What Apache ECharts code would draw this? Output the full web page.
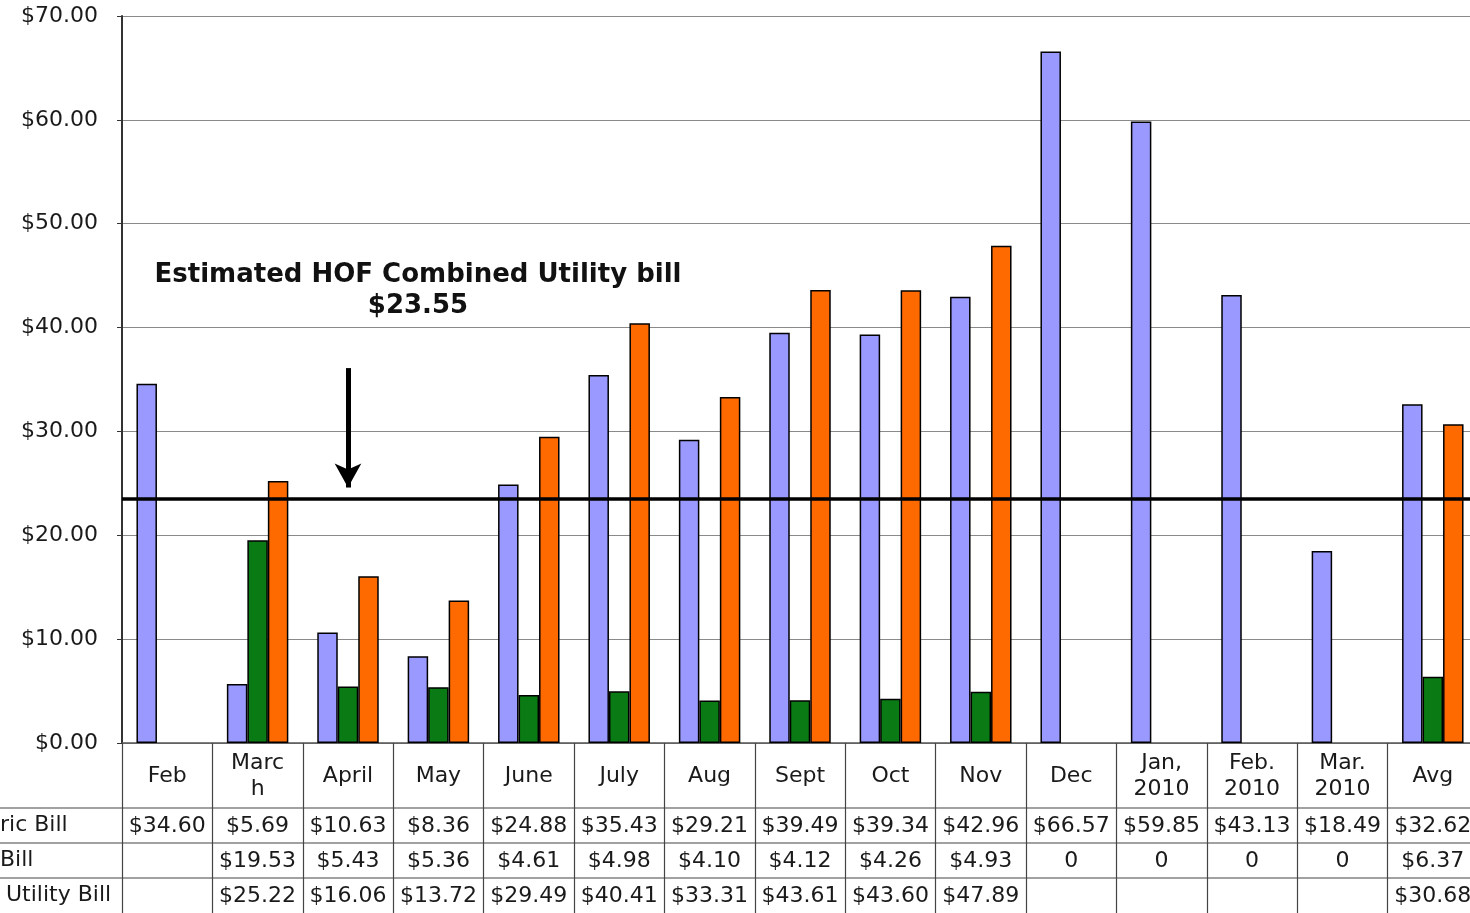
<!DOCTYPE html>
<html>
<head>
<meta charset="utf-8">
<title>Utility bills</title>
<script src="https://cdn.jsdelivr.net/npm/echarts@6/dist/echarts.min.js"></script>
<style>
  html, body { margin: 0; padding: 0; background: #fff; overflow: hidden; }
  /* the last column runs a few px past the window edge, as in the original */
  #chart { width: 1478px; height: 913px; }
</style>
</head>
<body>
<div id="chart"></div>
<script>
// categories (as printed in the table header)
const months = ['Feb', 'Marc\nh', 'April', 'May', 'June', 'July', 'Aug', 'Sept', 'Oct', 'Nov',
  'Dec', 'Jan,\n2010', 'Feb.\n2010', 'Mar.\n2010', 'Avg'];

// series values (null = empty cell)
const electricBill = [34.60, 5.69, 10.63, 8.36, 24.88, 35.43, 29.21, 39.49, 39.34, 42.96,
  66.57, 59.85, 43.13, 18.49, 32.62];
const gasBill = [null, 19.53, 5.43, 5.36, 4.61, 4.98, 4.10, 4.12, 4.26, 4.93, 0, 0, 0, 0, 6.37];
const combinedBill = [null, 25.22, 16.06, 13.72, 29.49, 40.41, 33.31, 43.61, 43.60, 47.89,
  null, null, null, null, 30.68];

// visible parts of the table row headers
const rowLabels = ['ric Bill', 'Bill', 'Utility Bill'];

// estimated HOF combined bill
const estimate = 23.55;
// arrow drawn in April, from / to these values
const arrowFrom = 36.1, arrowTo = 24.6;

const FONT = '"DejaVu Sans", sans-serif';
const TXT = '#1a1a1a';

const money = v => v === null ? '' : (v === 0 ? '0' : '$' + v.toFixed(2));

// one extra x axis per table row, just to print the cells
function tableAxis(values, offset) {
  return {
    type: 'category',
    position: 'bottom',
    offset: offset,
    data: values.map(money),
    axisLine: { show: false },
    axisTick: { show: false },
    axisLabel: {
      interval: 0, margin: 18, verticalAlign: 'middle',
      color: TXT, fontSize: 22, fontFamily: FONT
    }
  };
}

// zero bars: no outline, so nothing shows on the axis
const barData = arr => arr.map(v => v === 0 ? { value: 0, itemStyle: { borderWidth: 0 } } : v);

const barBorder = { borderColor: '#000', borderWidth: 1.5 };

const options = {
  animation: false,
  grid: { left: 122, right: 0, top: 16, bottom: 170, containLabel: false },
  xAxis: [
    {
      type: 'category',
      data: months,
      axisLine: { lineStyle: { color: '#555', width: 1.5 } },
      axisTick: { show: true, interval: 0, length: 170, lineStyle: { color: '#444', width: 1.2 } },
      axisLabel: {
        interval: 0, margin: 33, verticalAlign: 'middle', lineHeight: 26,
        color: TXT, fontSize: 22, fontFamily: FONT
      }
    },
    tableAxis(electricBill, 65),
    tableAxis(gasBill, 100),
    tableAxis(combinedBill, 135)
  ],
  yAxis: {
    type: 'value',
    min: 0, max: 70, interval: 10,
    axisLine: { show: true, lineStyle: { color: '#333', width: 2 } },
    axisTick: { show: true, length: 5, lineStyle: { color: '#333' } },
    axisLabel: {
      margin: 24, color: TXT, fontSize: 22, fontFamily: FONT,
      formatter: v => '$' + v.toFixed(2)
    },
    splitLine: { show: true, lineStyle: { color: '#8a8a8a', width: 1.2 } }
  },
  series: [
    {
      name: 'Electric Bill',
      type: 'bar',
      data: barData(electricBill),
      barGap: '0%',
      barCategoryGap: '32%',
      itemStyle: Object.assign({ color: '#9999FF' }, barBorder)
    },
    {
      name: 'Gas Bill',
      type: 'bar',
      data: barData(gasBill),
      barGap: '0%',
      barCategoryGap: '32%',
      itemStyle: Object.assign({ color: '#0A7A14' }, barBorder),
      // middle bar sits on the category centre, so the arrow goes here
      markLine: {
        silent: true,
        symbol: 'none',
        symbolSize: [20, 24],
        label: { show: false },
        lineStyle: { color: '#000', width: 3.5, type: 'solid' },
        data: [
          { yAxis: estimate },
          [
            { coord: ['April', arrowFrom], symbol: 'none', lineStyle: { width: 5 } },
            { coord: ['April', arrowTo], symbol: 'arrow', symbolSize: [20, 24], lineStyle: { width: 5 } }
          ]
        ]
      }
    },
    {
      name: 'Combined Utility Bill',
      type: 'bar',
      data: barData(combinedBill),
      barGap: '0%',
      barCategoryGap: '32%',
      itemStyle: Object.assign({ color: '#FF6A00' }, barBorder)
    }
  ],
  graphic: [
    // table row rules
    { type: 'line', shape: { x1: 0, y1: 808, x2: 1478, y2: 808 }, style: { stroke: '#444', lineWidth: 1.2 } },
    { type: 'line', shape: { x1: 0, y1: 843, x2: 1478, y2: 843 }, style: { stroke: '#444', lineWidth: 1.2 } },
    { type: 'line', shape: { x1: 0, y1: 878, x2: 1478, y2: 878 }, style: { stroke: '#444', lineWidth: 1.2 } },
    // row headers
    { type: 'text', left: 0, top: 814, style: { text: rowLabels[0], fill: TXT, font: '22px ' + FONT } },
    { type: 'text', left: 0, top: 849, style: { text: rowLabels[1], fill: TXT, font: '22px ' + FONT } },
    { type: 'text', left: 6, top: 884, style: { text: rowLabels[2], fill: TXT, font: '22px ' + FONT } },
    // annotation
    {
      type: 'text', x: 418, y: 291,
      style: {
        text: 'Estimated HOF Combined Utility bill\n$' + estimate.toFixed(2),
        fill: '#111', font: 'bold 26px ' + FONT,
        align: 'center', verticalAlign: 'middle', lineHeight: 31
      }
    }
  ]
};

const chart = echarts.init(document.getElementById('chart'));
chart.setOption(options);
window.addEventListener('resize', () => chart.resize(), false);
</script>
</body>
</html>
